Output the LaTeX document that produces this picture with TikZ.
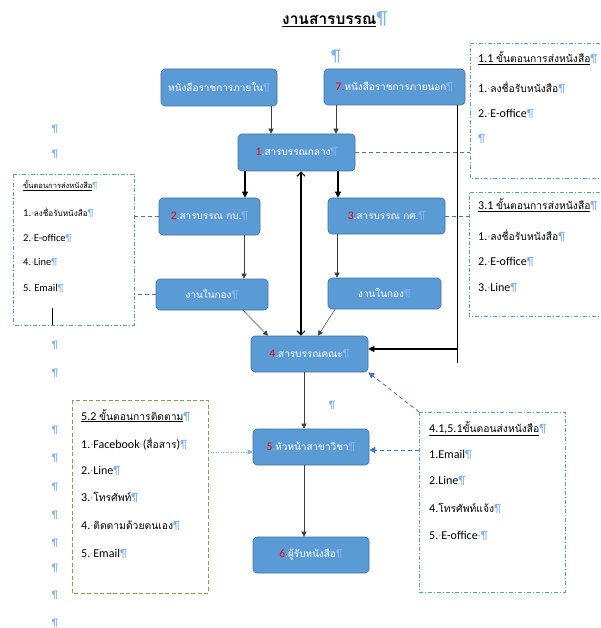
\documentclass[tikz,border=0pt]{standalone}
\usepackage{fontspec}
\setmainfont{Carlito}
\newfontfamily\thf[Script=Thai,Scale=0.86]{Loma}
\newfontfamily\thfb[Script=Thai]{Loma}
\usetikzlibrary{arrows.meta}
\definecolor{boxfill}{HTML}{5B9BD5}
\definecolor{boxdraw}{HTML}{41719C}
\definecolor{pilc}{HTML}{7FB2F0}
\definecolor{dashblue}{HTML}{4472C4}
\definecolor{sideblue}{HTML}{5B9BD5}
\definecolor{greenb}{HTML}{70AD47}
\newcommand\pil{{\rmfamily\color{pilc}¶}}
\newcommand\dsp{{\rmfamily\color{pilc}·}}
\newcommand\rn[1]{{\rmfamily\color{red}#1}}
\begin{document}
\begin{tikzpicture}[x=1pt,y=-1pt,
  box/.style={rectangle, rounded corners=4pt, fill=boxfill, draw=boxdraw, line width=0.6pt, text=white, font=\fontsize{11.6}{13}\selectfont, inner sep=0pt},
  arr/.style={-{Triangle[length=5pt,width=5pt]}, line width=0.5pt, draw=black!75},
  thkarr/.style={-{Triangle[length=6pt,width=6pt]}, line width=1.2pt},
  thk/.style={line width=1.2pt},
  dbl/.style={{Straight Barb[length=4pt,width=8pt]}-{Straight Barb[length=4pt,width=8pt]}, line width=1.2pt},
  dashc/.style={dash pattern=on 4pt off 3pt, draw=dashblue, line width=0.8pt},
  dasharr/.style={dash pattern=on 4pt off 3pt, draw=dashblue, line width=0.8pt, -{Triangle[length=6pt,width=6pt]}},
  dotarr/.style={dash pattern=on 1pt off 1.5pt, draw=pilc, line width=0.8pt, -{Triangle[length=5pt,width=5pt]}},
  sidebox/.style={draw=sideblue, line width=0.8pt, dash pattern=on 4pt off 2pt on 1pt off 2pt},
  greenbox/.style={draw=greenb, line width=0.8pt, dash pattern=on 4pt off 2.5pt},
  st/.style={anchor=base west, font=\fontsize{12}{14}\selectfont, inner sep=0pt},
  sts/.style={anchor=base west, font=\fontsize{10.5}{12}\selectfont, inner sep=0pt},
  pm/.style={text=pilc, font=\fontsize{11}{12}\selectfont, inner sep=0pt}]
\useasboundingbox[fill=white] (0,0) rectangle (600,628);

% title
\node[anchor=base west, inner sep=0pt, font=\fontsize{15.5}{18}\selectfont] (title) at (282,25) {\underline{\thfb\bfseries งานสารบรรณ}{\color{pilc}\fontsize{19}{19}\selectfont ¶}};
\node[pm, font=\fontsize{17}{17}\selectfont] (ptop) at (336,57) {¶};
\node[pm] (pmid) at (332,405) {¶};
\foreach \yy [count=\i] in {129,154,345,373,430,458,487,515,543,568,595,623}
  \node[pm] (lp\i) at (55,\yy) {¶};

% boxes
\node[box, minimum width=116pt, minimum height=37pt] (A) at (219,87.5) {\thf หนังสือราชการภายใน\pil};
\node[box, minimum width=141pt, minimum height=36pt] (B7) at (394.5,87) {\rn{7.}{\thf หนังสือราชการภายนอก}\pil};
\node[box, minimum width=117pt, minimum height=37pt] (N1) at (296.5,152.5) {\rn{1}.{\thf สารบรรณกลาง}\pil};
\node[box, minimum width=101pt, minimum height=37pt] (N2) at (209.5,216.5) {\rn{2}.{\thf สารบรรณ กบ.}\pil};
\node[box, minimum width=117pt, minimum height=36pt] (N3) at (386.5,216) {\rn{3}.{\thf สารบรรณ กศ.}\pil};
\node[box, minimum width=112pt, minimum height=31pt] (GL) at (212,294.5) {\thf งานในกอง\pil};
\node[box, minimum width=113pt, minimum height=31pt] (GR) at (384.5,293.5) {\thf งานในกอง\pil};
\node[box, minimum width=117pt, minimum height=36pt] (N4) at (309.5,354) {\rn{4}.{\thf สารบรรณคณะ}\pil};
\node[box, minimum width=116pt, minimum height=36pt] (N5) at (311,447) {\rn{5}.{\thf หัวหน้าสาขาวิชา}\pil};
\node[box, minimum width=116pt, minimum height=36pt] (N6) at (311,555) {\rn{6}.{\thf ผู้รับหนังสือ}\pil};

% x positions for vertical connectors
\coordinate (x271) at (271,0);
\coordinate (x336) at (336,0);
\coordinate (x245) at (245,0);
\coordinate (x338) at (338,0);
\coordinate (x301) at (301,0);
\coordinate (x244) at (244,0);
\coordinate (x337) at (337,0);
\coordinate (x304) at (304,0);
\coordinate (x243) at (243,0);
\coordinate (x268) at (268,0);
\coordinate (x335) at (335,0);
\coordinate (x318) at (318,0);
\coordinate (rj) at (457.5,349);
\coordinate (x458) at (457.5,0);

\draw[arr] (x271 |- A.south) -- (x271 |- N1.north);
\draw[arr] (x336 |- B7.south) -- (x336 |- N1.north);
\draw[thk] (x458 |- B7.south) -- (rj) -- ++(0,14) coordinate (rjend);
\draw[thkarr] (rj) -- (rj -| N4.east);
\draw[thkarr] (x245 |- N1.south) -- (x245 |- N2.north);
\draw[thkarr] (x338 |- N1.south) -- (x338 |- N3.north);
\draw[dbl] (x301 |- N1.south) -- (x301 |- N4.north);
\draw[arr] (x244 |- N2.south) -- (x244 |- GL.north);
\draw[arr] (x337 |- N3.south) -- (x337 |- GR.north);
\draw[arr] (x243 |- GL.south) -- (x268 |- N4.north);
\draw[arr] (x335 |- GR.south) -- (x318 |- N4.north);
\draw[arr] (x304 |- N4.south) -- (x304 |- N5.north);
\draw[arr] (x304 |- N5.south) -- (x304 |- N6.north);

% side box 1.1
\coordinate (b11) at (470,43);
\draw[sidebox] (600,43) -- (b11) -- (470,178) -- (600,178);
\node[st] (t11h) at (478,63) {\underline{1.1 {\thf ขั้นตอนการส่งหนังสือ}}\pil};
\node[st] (t11a) at (478,93) {1.\dsp{\thf ลงชื่อรับหนังสือ}\pil};
\node[st] (t11b) at (478,118) {2.\dsp E-office\pil};
\node[st] (t11c) at (478,143) {\pil};
\draw[dashc] (N1.east) -- (N1.east -| b11);

% side box 3.1
\coordinate (b31) at (469,192);
\draw[sidebox] (600,192) -- (b31) -- (469,316) -- (600,316);
\node[st] (t31h) at (478,210) {\underline{3.1 {\thf ขั้นตอนการส่งหนังสือ}}\pil};
\node[st] (t31a) at (478,240) {1.\dsp{\thf ลงชื่อรับหนังสือ}\pil};
\node[st] (t31b) at (478,265) {2.\dsp E-office\pil};
\node[st] (t31c) at (478,291) {3.\dsp Line\pil};
\draw[dashc] (N3.east) -- (N3.east -| b31);

% left box
\coordinate (bl) at (134,174);
\draw[sidebox] (13,174) rectangle (134,325);
\node[anchor=base west, inner sep=0pt, font=\fontsize{8.8}{10}\selectfont] (tlh) at (23,189) {\underline{\thf ขั้นตอนการส่งหนังสือ}\pil};
\node[sts] (tla) at (23,216) {1.\dsp{\thf\fontsize{9.5}{10}\selectfont ลงชื่อรับหนังสือ}\pil};
\node[sts] (tlb) at (23,241) {2.\dsp E-office\pil};
\node[sts] (tlc) at (23,265) {4.\dsp Line\pil};
\node[sts] (tld) at (23,291) {5. Email\pil};
\draw[line width=0.8pt] (52,308) -- (52,325);
\draw[dashc] (N2.west) -- (N2.west -| bl);
\draw[dashc] (GL.west) -- (GL.west -| bl);

% green box 5.2
\coordinate (bg) at (208,400);
\draw[greenbox] (72,400) rectangle (208,593);
\node[st] (tgh) at (81,420) {\underline{5.2 {\thf ขั้นตอนการติดตาม}}\pil};
\node[st] (tga) at (81,448) {1.\dsp Facebook\dsp({\thf สื่อสาร})\pil};
\node[st] (tgb) at (81,474) {2.\dsp Line\pil};
\node[st] (tgc) at (81,501) {3.\dsp{\thf โทรศัพท์}\pil};
\node[st] (tgd) at (81,529) {4.\dsp{\thf ติดตามด้วยตนเอง}\pil};
\node[st] (tge) at (81,557) {5.\dsp Email\pil};
\coordinate (d5) at ([yshift=-5pt]N5.west);
\draw[dotarr] (d5 -| bg) -- (d5);

% box 4.1,5.1
\coordinate (b41) at (419,412);
\draw[sidebox] (419,412) rectangle (565,592);
\node[st] (t41h) at (429,432) {\underline{4.1,5.1{\thf ขั้นตอนส่งหนังสือ}}\pil};
\node[st] (t41a) at (429,458) {1.Email\pil};
\node[st] (t41b) at (429,484) {2.Line\pil};
\node[st] (t41c) at (429,512) {4.{\thf โทรศัพท์แจ้ง}\pil};
\node[st] (t41d) at (429,539) {5.\dsp E-office\dsp\pil};
\coordinate (d5r) at ([yshift=-3pt]N5.east);
\draw[dasharr] (b41) -- (N4.south east);
\draw[dasharr] (d5r -| b41) -- (d5r);
\end{tikzpicture}
\end{document}
